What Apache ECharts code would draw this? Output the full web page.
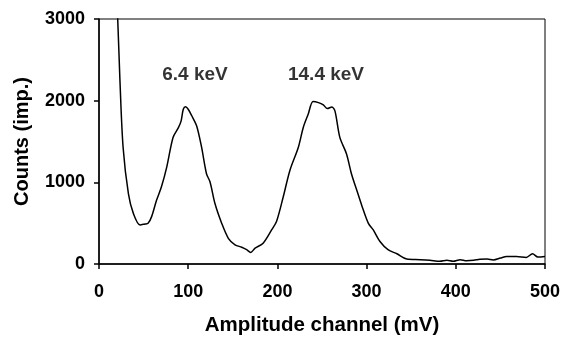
<!DOCTYPE html>
<html>
<head>
<meta charset="utf-8">
<script src="https://cdn.jsdelivr.net/npm/echarts@6/dist/echarts.min.js"></script>
<style>
  html, body { margin: 0; padding: 0; background: #fff; }
  #chart { width: 570px; height: 341px; }
</style>
</head>
<body>
<div id="chart"></div>
<script>
// amplitude channel (mV) and counts
const channel = [18, 21, 23.5, 27, 33, 38.5, 46, 51.5, 55, 59, 64.5, 70, 76, 83, 89, 92, 94.5, 97, 100, 104, 109.5,
  115, 120.5, 124.5, 130, 137.5, 145, 152.5, 160, 165.5, 170, 175, 184, 193.5, 199, 206.5, 214, 223.5, 229, 234.5,
  240, 246, 251.5, 256, 261, 264.5, 270, 277.5, 283, 289, 294.5, 302, 307.5, 315, 324, 334, 345, 360, 371, 382,
  390, 397, 405, 412, 420, 427, 435, 442, 450, 457, 468, 479, 486, 492, 500];
const counts = [3600, 2990, 2240, 1430, 860, 620, 478, 490, 498, 580, 780, 945, 1190, 1550, 1670, 1750, 1895, 1925, 1895, 1815, 1690,
  1430, 1105, 1005, 740, 500, 315, 235, 205, 175, 142, 194, 255, 417, 520, 820, 1146, 1430, 1672, 1834,
  1990, 1976, 1947, 1903, 1923, 1875, 1550, 1348, 1106, 903, 720, 498, 417, 275, 175, 125, 61, 53, 45, 33,
  45, 33, 53, 40, 45, 58, 61, 50, 73, 93, 93, 81, 125, 85, 93];

const peakNames = ["6.4 keV", "14.4 keV"];
const peakX = [107.6, 254.5];
const peakY = [2320, 2320];

const font = "'Liberation Sans', Arial, sans-serif";
const chart = echarts.init(document.getElementById("chart"));

chart.setOption({
  animation: false,
  grid: {
    left: 99,
    right: 25,
    top: 19,
    bottom: 75,
    show: true,
    borderColor: "#000",
    borderWidth: 1
  },
  xAxis: {
    type: "value",
    min: 0,
    max: 500,
    interval: 100,
    name: "Amplitude channel (mV)",
    nameLocation: "middle",
    nameGap: 51,
    nameTextStyle: { fontFamily: font, fontWeight: "bold", fontSize: 20.5, color: "#000" },
    axisLine: { lineStyle: { color: "#000", width: 1.5 } },
    axisTick: { length: 5, lineStyle: { color: "#000", width: 1.5 } },
    axisLabel: { margin: 19, fontFamily: font, fontWeight: "bold", fontSize: 18, color: "#000" },
    splitLine: { show: false }
  },
  yAxis: {
    type: "value",
    min: 0,
    max: 3000,
    interval: 1000,
    name: "Counts (imp.)",
    nameLocation: "middle",
    nameGap: 67,
    nameTextStyle: { fontFamily: font, fontWeight: "bold", fontSize: 20, color: "#000" },
    axisLine: { show: true, lineStyle: { color: "#000", width: 1.5 } },
    axisTick: { show: true, length: 5, lineStyle: { color: "#000", width: 1.5 } },
    axisLabel: { margin: 14, fontFamily: font, fontWeight: "bold", fontSize: 18, color: "#000", formatter: (v) => String(v) },
    splitLine: { show: false }
  },
  series: [
    {
      type: "line",
      data: channel.map((x, i) => [x, counts[i]]),
      smooth: 0.3,
      showSymbol: false,
      clip: true,
      lineStyle: { color: "#000", width: 1.5 }
    },
    {
      type: "scatter",
      symbolSize: 0,
      data: peakX.map((x, i) => ({ value: [x, peakY[i]], name: peakNames[i] })),
      label: {
        show: true,
        position: "inside",
        formatter: "{b}",
        fontFamily: font,
        fontWeight: "bold",
        fontSize: 19,
        color: "#000"
      }
    }
  ]
});
</script>
</body>
</html>
